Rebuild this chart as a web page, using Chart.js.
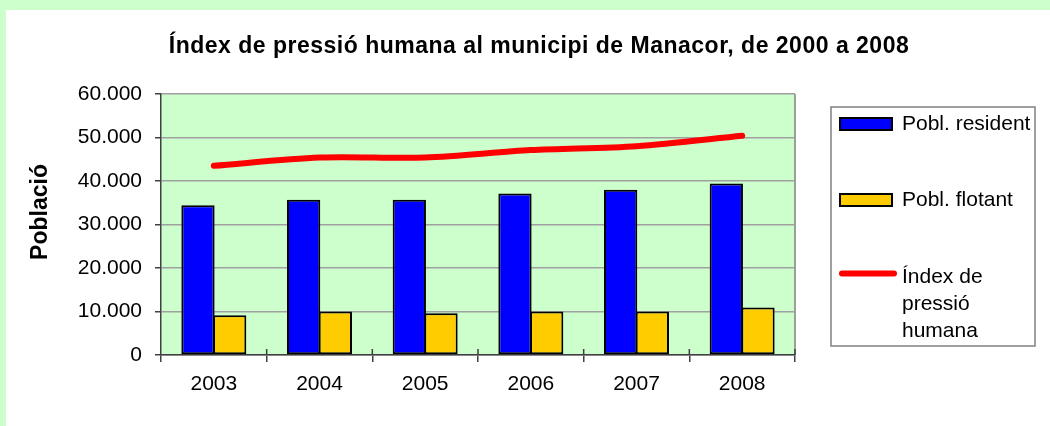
<!DOCTYPE html>
<html>
<head>
<meta charset="utf-8">
<script src="https://cdn.jsdelivr.net/npm/chart.js@4"></script>
<style>
  html, body { margin: 0; padding: 0; background: #ccffcc; }
  #wrap { position: absolute; left: 6px; top: 10px; width: 1044px; height: 416px; background: #ffffff; }
</style>
</head>
<body>
<div id="wrap"><canvas id="pressioChart" width="1044" height="416"></canvas></div>
<script>
// Dades: anys i sèries
const anys = ['2003', '2004', '2005', '2006', '2007', '2008'];
const poblResident = [34400, 35700, 35700, 37100, 38000, 39400];
const poblFlotant = [9150, 10000, 9600, 10000, 10000, 10900];
const indexPressio = [43500, 45400, 45400, 47100, 48000, 50400];
const titol = 'Índex de pressió humana al municipi de Manacor, de 2000 a 2008';
const titolEix = 'Població';

const FONT = '"Liberation Sans", Arial, sans-serif';

function formatMiles(v) {
  return String(v).replace(/\B(?=(\d{3})+(?!\d))/g, '.');
}

// Fons verd de l'àrea de dibuix, vora dreta i marques de l'eix X
const fonsArea = {
  id: 'fonsArea',
  beforeDraw(chart) {
    const { ctx, chartArea: a } = chart;
    ctx.save();
    ctx.fillStyle = '#ccffcc';
    ctx.fillRect(a.left, a.top, a.right - a.left, a.bottom - a.top);
    ctx.strokeStyle = '#808080';
    ctx.lineWidth = 1.5;
    ctx.beginPath();
    ctx.moveTo(a.right, a.top);
    ctx.lineTo(a.right, a.bottom);
    ctx.stroke();
    ctx.restore();
  },
  afterDatasetsDraw(chart) {
    const { ctx, chartArea: a } = chart;
    const n = chart.data.labels.length;
    const pas = (a.right - a.left) / n;
    ctx.save();
    ctx.strokeStyle = '#404040';
    ctx.lineWidth = 1.5;
    ctx.beginPath();
    for (let i = 1; i <= n; i++) {
      const x = a.left + i * pas;
      ctx.moveTo(x, a.bottom - 6);
      ctx.lineTo(x, a.bottom);
    }
    ctx.stroke();
    ctx.restore();
  }
};

// Títol, títol de l'eix i llegenda amb marc
const textos = {
  id: 'textos',
  afterDraw(chart) {
    const ctx = chart.ctx;
    ctx.save();
    ctx.fillStyle = '#000000';

    ctx.font = 'bold 23px ' + FONT;
    ctx.letterSpacing = '0.5px';
    ctx.textAlign = 'center';
    ctx.textBaseline = 'alphabetic';
    ctx.fillText(titol, 533, 43);
    ctx.letterSpacing = '0px';

    ctx.save();
    ctx.translate(41, 202);
    ctx.rotate(-Math.PI / 2);
    ctx.fillText(titolEix, 0, 0);
    ctx.restore();

    // llegenda
    ctx.strokeStyle = '#808080';
    ctx.lineWidth = 1.5;
    ctx.strokeRect(825, 97, 204, 239);

    const ds = chart.data.datasets;
    const baseLinia = [120, 196, 273];
    ctx.font = '21px ' + FONT;
    ctx.textAlign = 'left';
    ds.forEach((d, i) => {
      const y = baseLinia[i];
      if (d.type === 'line') {
        ctx.strokeStyle = d.borderColor;
        ctx.lineWidth = 6;
        ctx.lineCap = 'round';
        ctx.beginPath();
        ctx.moveTo(836, y - 9.5);
        ctx.lineTo(888, y - 9.5);
        ctx.stroke();
      } else {
        ctx.fillStyle = d.backgroundColor;
        ctx.fillRect(834, y - 12, 52, 12);
        ctx.strokeStyle = '#000000';
        ctx.lineWidth = 2;
        ctx.strokeRect(834, y - 12, 52, 12);
      }
      ctx.fillStyle = '#000000';
      // ajust de línia dins el marc
      const paraules = d.label.split(' ');
      const linies = [];
      let actual = '';
      paraules.forEach(p => {
        const prova = actual ? actual + ' ' + p : p;
        if (actual && ctx.measureText(prova).width > 130) {
          linies.push(actual);
          actual = p;
        } else {
          actual = prova;
        }
      });
      linies.push(actual);
      linies.forEach((l, k) => ctx.fillText(l, 896, y + k * 27));
    });
    ctx.restore();
  }
};

const ctxPressio = document.getElementById('pressioChart').getContext('2d');

const pressioChart = new Chart(ctxPressio, {
  type: 'bar',
  data: {
    labels: anys,
    datasets: [
      {
        label: 'Pobl. resident',
        data: poblResident,
        backgroundColor: '#0000ff',
        borderColor: '#000000',
        borderWidth: 2,
        borderSkipped: false,
        categoryPercentage: 0.6,
        barPercentage: 1.05,
        order: 2
      },
      {
        label: 'Pobl. flotant',
        data: poblFlotant,
        backgroundColor: '#ffcc00',
        borderColor: '#000000',
        borderWidth: 2,
        borderSkipped: false,
        categoryPercentage: 0.6,
        barPercentage: 1.05,
        order: 3
      },
      {
        type: 'line',
        label: 'Índex de pressió humana',
        data: indexPressio,
        borderColor: '#ff0000',
        borderWidth: 6,
        borderCapStyle: 'round',
        borderJoinStyle: 'round',
        pointRadius: 0,
        tension: 0.3,
        fill: false,
        order: 1
      }
    ]
  },
  options: {
    responsive: false,
    devicePixelRatio: 1,
    animation: false,
    layout: { padding: { left: 0, top: 84, right: 255, bottom: 0 } },
    plugins: {
      legend: { display: false },
      title: { display: false },
      tooltip: { enabled: false }
    },
    scales: {
      x: {
        grid: {
          offset: true,
          drawOnChartArea: false,
          drawTicks: true,
          tickLength: 7,
          tickColor: '#404040',
          lineWidth: 1.5
        },
        border: { color: '#404040', width: 1.5 },
        ticks: {
          color: '#000000',
          font: { family: FONT, size: 21 },
          padding: 10,
          maxRotation: 0
        },
        afterFit(scale) { scale.height = 71; }
      },
      y: {
        min: 0,
        max: 60000,
        grid: {
          color: '#a0a0a0',
          lineWidth: 1.5,
          drawTicks: true,
          tickLength: 6,
          tickColor: '#404040'
        },
        border: { color: '#404040', width: 1.5 },
        ticks: {
          stepSize: 10000,
          color: '#000000',
          font: { family: FONT, size: 21 },
          padding: 13,
          callback: v => formatMiles(v)
        },
        afterFit(scale) { scale.width = 155; }
      }
    }
  },
  plugins: [fonsArea, textos]
});
</script>
</body>
</html>
